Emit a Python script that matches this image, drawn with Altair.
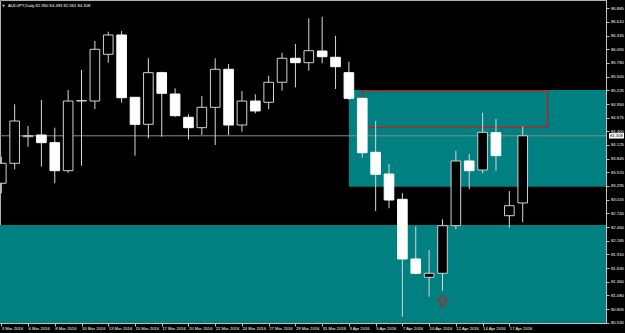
import altair as alt
import pandas as pd

# ---------------- data ----------------
dates = ["3 Mar", "4 Mar", "6 Mar", "7 Mar", "8 Mar", "9 Mar", "10 Mar", "11 Mar",
         "13 Mar", "14 Mar", "15 Mar", "16 Mar", "17 Mar", "18 Mar", "20 Mar", "21 Mar",
         "22 Mar", "23 Mar", "24 Mar", "25 Mar", "27 Mar", "28 Mar", "29 Mar", "30 Mar",
         "31 Mar", "1 Apr", "3 Apr", "4 Apr", "5 Apr", "6 Apr", "7 Apr", "8 Apr",
         "10 Apr", "11 Apr", "12 Apr", "13 Apr", "14 Apr", "15 Apr", "17 Apr", "18 Apr"]

opens = [83.348, 83.752, 84.290, 84.324, 84.169, 83.603, 85.011, 85.011, 85.956, 86.346,
         85.086, 84.540, 85.584, 85.153, 84.682, 84.472, 84.884, 85.652, 84.526, 85.011,
         84.985, 85.390, 85.875, 85.786, 86.022, 85.895, 85.584, 85.066, 83.974, 83.536,
         83.024, 81.818, 81.448, 81.529, 82.491, 83.799, 83.617, 84.371, 82.693, 82.950]
highs = [83.886, 84.945, 84.506, 85.032, 84.472, 85.234, 85.638, 86.224, 86.412, 86.426,
         85.090, 85.875, 85.604, 85.268, 84.743, 85.112, 85.875, 85.760, 85.213, 85.147,
         85.523, 85.988, 86.163, 86.683, 86.716, 86.330, 85.806, 85.080, 84.607, 83.738,
         83.146, 82.471, 82.000, 82.620, 84.007, 83.940, 84.775, 84.647, 83.192, 84.493]
lows = [83.146, 83.631, 84.088, 83.683, 83.348, 83.562, 83.704, 84.850, 85.786, 84.977,
        83.906, 84.257, 84.290, 84.694, 84.236, 84.324, 84.122, 84.324, 84.391, 84.763,
        84.844, 85.220, 85.288, 85.624, 85.774, 85.254, 85.032, 83.865, 82.788, 82.843,
        80.651, 81.508, 81.056, 81.177, 82.418, 83.227, 83.550, 83.603, 82.450, 82.561]
closes = [83.752, 84.607, 84.310, 84.169, 83.603, 85.011, 85.020, 86.057, 86.346, 85.078,
          84.540, 85.584, 85.167, 84.714, 84.472, 84.884, 85.652, 84.526, 85.011, 84.810,
          85.390, 85.875, 85.786, 86.028, 85.907, 85.705, 85.066, 83.966, 83.530, 83.010,
          81.818, 81.529, 81.529, 82.491, 83.799, 83.603, 84.379, 83.906, 82.895, 84.308]

price_ticks = [86.885, 86.610, 86.335, 86.055, 85.780, 85.500, 85.225, 84.950, 84.675,
               84.400, 84.125, 83.845, 83.570, 83.295, 83.015, 82.740, 82.460, 82.185,
               81.910, 81.635, 81.360, 81.080, 80.805, 80.530]
date_tick_idx = list(range(0, 40, 2))

title_text = "AUDJPY,Daily  82.950  84.493  82.561  84.308"
bid_price = 84.308

# zones (bar index from/to, price top/bottom)
zone_from = [-5.0, 26.0]
zone_to = [60.0, 60.0]
zone_top = [82.505, 85.234]
zone_bottom = [78.0, 83.279]

# red rectangle
red_from, red_to, red_top, red_bottom = 27.0, 40.87, 85.220, 84.480

# buy arrow
arrow_bar, arrow_price = 33, 80.969

# ---------------- chart ----------------
df = pd.DataFrame({"i": list(range(len(dates))), "date": dates, "open": opens,
                   "high": highs, "low": lows, "close": closes})
zones = pd.DataFrame({"x1": zone_from, "x2": zone_to, "top": zone_top, "bottom": zone_bottom})
red = pd.DataFrame({"x1": [red_from], "x2": [red_to], "top": [red_top], "bottom": [red_bottom]})
arrow = pd.DataFrame({"i": [arrow_bar], "p": [arrow_price]})
bid = pd.DataFrame({"p": [bid_price], "label": [f"{bid_price:.3f}"]})

W, H = 606, 323
xscale = alt.Scale(domain=[-0.097, 45.23], nice=False, zero=False)
yscale = alt.Scale(domain=[80.524, 87.053], nice=False, zero=False)
FONT = "Liberation Sans"
FS = 4.2

label_expr = "[" + ",".join(f"'{d} 2016'" for d in dates) + "][datum.value]"
xaxis = alt.Axis(values=date_tick_idx, labelExpr=label_expr, orient="bottom",
                 labelAlign="left", labelFontSize=FS, labelColor="#ffffff",
                 labelFont=FONT, tickColor="#c0c0c0", tickSize=3, labelPadding=0.5,
                 domainColor="#c0c0c0", grid=False, title=None, labelOverlap=False,
                 labelFlush=False)
yaxis = alt.Axis(values=price_ticks, format=".3f", orient="right", labelFontSize=FS,
                 labelColor="#ffffff", labelFont=FONT, tickColor="#c0c0c0", tickSize=3,
                 labelPadding=1.5, domainColor="#c0c0c0", grid=False, title=None,
                 labelOverlap=False, labelFlush=False)

zone_layer = alt.Chart(zones).mark_rect(color="#008080", clip=True).encode(
    x=alt.X("x1:Q", scale=xscale, axis=xaxis), x2="x2:Q",
    y=alt.Y("top:Q", scale=yscale, axis=yaxis), y2="bottom:Q")

bid_line = alt.Chart(bid).mark_rule(color="#8a8a8a", strokeWidth=1).encode(
    y=alt.Y("p:Q", scale=yscale, axis=yaxis), x=alt.value(0), x2=alt.value(W))

red_layer = alt.Chart(red).mark_rect(filled=False, stroke="#ff0000", strokeWidth=1, clip=True).encode(
    x=alt.X("x1:Q", scale=xscale, axis=xaxis), x2="x2:Q",
    y=alt.Y("top:Q", scale=yscale, axis=yaxis), y2="bottom:Q")

wicks = alt.Chart(df).mark_rule(color="#d8d8d8", strokeWidth=1, clip=True).encode(
    x=alt.X("i:Q", scale=xscale, axis=xaxis),
    y=alt.Y("low:Q", scale=yscale, axis=yaxis), y2="high:Q")

bodies = alt.Chart(df).transform_calculate(
    b1="datum.i - 0.36", b2="datum.i + 0.36"
).mark_rect(strokeWidth=1, clip=True).encode(
    x=alt.X("b1:Q", scale=xscale, axis=xaxis), x2="b2:Q",
    y=alt.Y("open:Q", scale=yscale, axis=yaxis), y2="close:Q",
    fill=alt.condition("datum.close >= datum.open", alt.value("#000000"), alt.value("#ffffff")),
    stroke=alt.condition("datum.close >= datum.open", alt.value("#d0d0d0"), alt.value("#ffffff")))

arrow_path = "M0,-1 L1,0 L0.4,0 L0.4,1 L-0.4,1 L-0.4,0 L-1,0 Z"
arrow_layer = alt.Chart(arrow).mark_point(shape=arrow_path, size=100, filled=False,
                                          color="#ff0000", strokeWidth=1.2).encode(
    x=alt.X("i:Q", scale=xscale, axis=xaxis), y=alt.Y("p:Q", scale=yscale, axis=yaxis))

title_icon = alt.Chart(bid).mark_point(shape="triangle-down", size=10, filled=True,
                                       color="#ffffff").encode(
    x=alt.value(3.5), y=alt.value(6))
title_layer = alt.Chart(bid).mark_text(align="left", baseline="middle", fontSize=FS,
                                       font=FONT, color="#ffffff").encode(
    x=alt.value(8), y=alt.value(6), text=alt.value(title_text))

price_box = alt.Chart(bid).transform_calculate(
    hi="datum.p + 0.055", lo="datum.p - 0.055"
).mark_rect(color="#ffffff").encode(
    x=alt.value(609), x2=alt.value(624),
    y=alt.Y("hi:Q", scale=yscale, axis=yaxis), y2="lo:Q")
price_text = alt.Chart(bid).mark_text(align="left", baseline="middle", fontSize=FS,
                                      font=FONT, color="#000000").encode(
    x=alt.value(610), y=alt.Y("p:Q", scale=yscale, axis=yaxis), text="label:N")

chart = alt.layer(zone_layer, bid_line, red_layer, wicks, bodies, arrow_layer,
                  title_icon, title_layer, price_box, price_text).properties(
    width=W, height=H,
    autosize=alt.AutoSizeParams(type="none"),
    padding={"left": 0, "top": 0, "right": 19, "bottom": 10},
    background="#000000",
).configure_view(stroke="#b0b0b0", strokeWidth=1)

chart.save("out.html", embed_options={"renderer": "svg", "actions": False})
